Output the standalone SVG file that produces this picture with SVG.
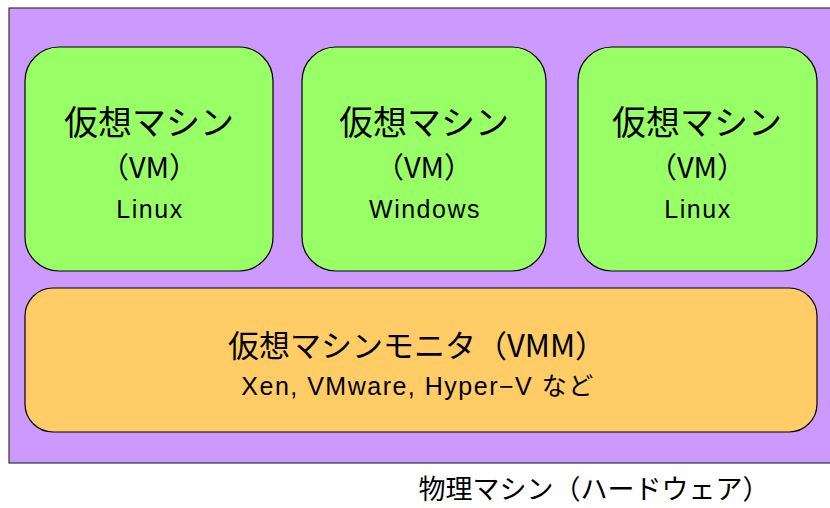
<svg xmlns="http://www.w3.org/2000/svg" width="830" height="508" viewBox="0 0 830 508">
<style>
text{font-family:"Noto Sans CJK JP","Liberation Sans",sans-serif;fill:#000;text-anchor:middle}
.lat{font-family:"Liberation Sans","Noto Sans CJK JP",sans-serif}
.vm{fill:#99FF66;stroke:#000;stroke-width:1.2}
.t1{font-size:34px}
.t2{font-size:29px}
.t3{font-size:25px;letter-spacing:1.5px}
</style>
<rect width="830" height="508" fill="#fff"/>
<g id="host">
<rect x="9" y="8" width="830" height="455" fill="#CC99FF" stroke="#333" stroke-width="1.2"/>
<text x="594" y="499" style="font-size:27px">物理マシン（ハードウェア）</text>
</g>
<g id="vm1">
<rect class="vm" x="25" y="47" width="248" height="224" rx="34"/>
<text class="t1" x="149" y="135">仮想マシン</text>
<text class="t2" x="149" y="178">（VM）</text>
<text class="t3 lat" x="150" y="218">Linux</text>
</g>
<g id="vm2">
<rect class="vm" x="302" y="47" width="244" height="224" rx="34"/>
<text class="t1" x="424" y="135">仮想マシン</text>
<text class="t2" x="424" y="178">（VM）</text>
<text class="t3 lat" x="425" y="218">Windows</text>
</g>
<g id="vm3">
<rect class="vm" x="578" y="47" width="239" height="224" rx="34"/>
<text class="t1" x="697" y="135">仮想マシン</text>
<text class="t2" x="697" y="178">（VM）</text>
<text class="t3 lat" x="698" y="218">Linux</text>
</g>
<g id="vmm">
<rect x="25" y="288" width="792" height="144" rx="28" fill="#FFCC66" stroke="#000" stroke-width="1.2"/>
<text x="417" y="357" style="font-size:31px">仮想マシンモニタ（VMM）</text>
<text class="lat" x="418" y="395" style="font-size:25px;letter-spacing:1.5px">Xen, VMware, Hyper−V など</text>
</g>
<g id="connectors"/>
</svg>
